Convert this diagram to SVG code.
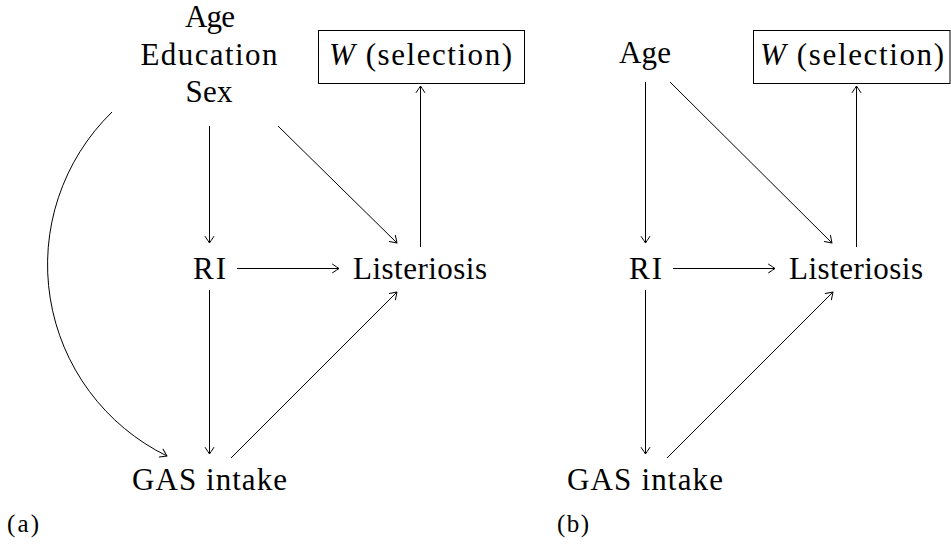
<svg xmlns="http://www.w3.org/2000/svg" width="951" height="545" viewBox="0 0 951 545">
  <style>
    .t { font-family: 'Liberation Serif', 'Times New Roman', serif; font-size: 31px; fill: #000; }
    .lbl { font-family: 'Liberation Serif', 'Times New Roman', serif; font-size: 25px; fill: #000; }
    .edge { stroke: #000; stroke-width: 1; fill: none; marker-end: url(#arr); }
    .box { stroke: #000; stroke-width: 1; fill: #fff; }
  </style>
  <defs>
    <marker id="arr" markerUnits="userSpaceOnUse" viewBox="-8 -5 9 10" markerWidth="9" markerHeight="10" refX="0" refY="0" orient="auto" overflow="visible">
      <path d="M-6.5,-4.3 Q-1.8,-1.2 0,0 Q-1.8,1.2 -6.5,4.3" fill="none" stroke="#000" stroke-width="1" stroke-linecap="round" stroke-linejoin="round"/>
    </marker>
  </defs>

  <g font-family="Liberation Serif, Times New Roman, serif">
  <!-- Panel (a) -->
  <g id="a-confounders">
    <text class="t" x="185" y="27" textLength="50">Age</text>
    <text class="t" x="140.5" y="65" textLength="137">Education</text>
    <text class="t" x="185.5" y="102" textLength="47">Sex</text>
  </g>
  <g id="a-selection">
    <rect class="box" x="318.5" y="30.5" width="206" height="53"/>
    <text class="t" x="329" y="65" textLength="183"><tspan font-style="italic">W</tspan> (selection)</text>
  </g>
  <g id="a-ri">
    <text class="t" x="193" y="279" textLength="33">RI</text>
  </g>
  <g id="a-listeriosis">
    <text class="t" x="353" y="279" textLength="134">Listeriosis</text>
  </g>
  <g id="a-gas">
    <text class="t" x="132" y="490" textLength="155">GAS intake</text>
  </g>
  <g id="a-label">
    <text class="lbl" x="7" y="532" textLength="32">(a)</text>
  </g>

  <!-- Panel (b) -->
  <g id="b-age">
    <text class="t" x="619" y="63" textLength="52">Age</text>
  </g>
  <g id="b-selection">
    <rect class="box" x="753.5" y="30.5" width="196.5" height="53"/>
    <text class="t" x="760" y="65" textLength="184"><tspan font-style="italic">W</tspan> (selection)</text>
  </g>
  <g id="b-ri">
    <text class="t" x="629" y="279" textLength="33">RI</text>
  </g>
  <g id="b-listeriosis">
    <text class="t" x="789" y="279" textLength="134">Listeriosis</text>
  </g>
  <g id="b-gas">
    <text class="t" x="567" y="490" textLength="156">GAS intake</text>
  </g>
  <g id="b-label">
    <text class="lbl" x="557" y="532" textLength="32">(b)</text>
  </g>
  </g>

  <g id="connectors">
    <!-- (a) -->
    <path class="edge" d="M209.5,126 L209.5,243"/>
    <path class="edge" d="M278,126 L397,243"/>
    <path class="edge" d="M420.5,247 L420.5,86"/>
    <path class="edge" d="M237,268.5 L339,268.5"/>
    <path class="edge" d="M209.5,290 L209.5,454"/>
    <path class="edge" d="M231,458 L397,292"/>
    <path class="edge" d="M112,112 A213,213 0 0 0 167,456"/>
    <!-- (b) -->
    <path class="edge" d="M645.5,82 L645.5,243"/>
    <path class="edge" d="M670,82 L832,243"/>
    <path class="edge" d="M856.5,247 L856.5,86"/>
    <path class="edge" d="M673,268.5 L775,268.5"/>
    <path class="edge" d="M645.5,290 L645.5,454"/>
    <path class="edge" d="M667,458 L833,292"/>
  </g>
</svg>
